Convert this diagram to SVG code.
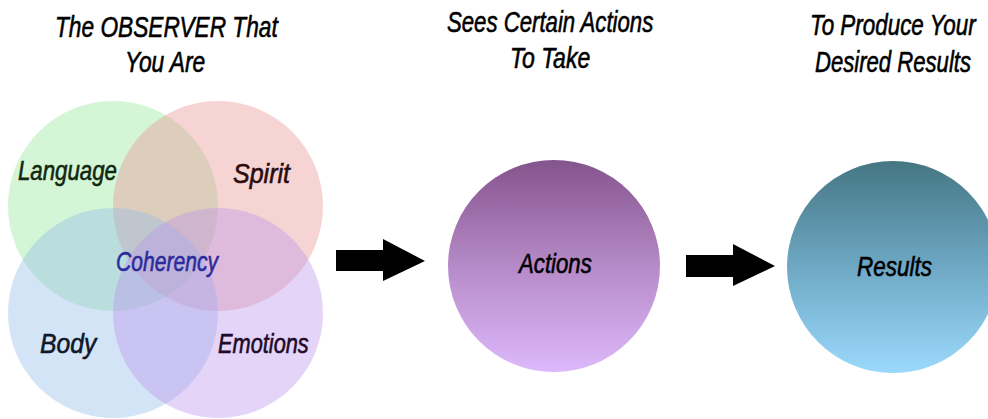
<svg xmlns="http://www.w3.org/2000/svg" width="988" height="419" viewBox="0 0 988 419">
  <style>
    text { font-family: "Liberation Sans Narrow", "Liberation Sans", Arial, sans-serif; font-style: italic; stroke-width: 0.6; }
    .title { font-size: 30px; fill: #000; stroke: #000; }
    .venn-label { font-size: 28px; }
    .node-label { font-size: 28px; fill: #000; stroke: #000; }
    .venn { fill-opacity: 0.4; }
    .arrow { fill: #000; }
  </style>
  <defs>
    <linearGradient id="gradActions" x1="0" y1="0" x2="0" y2="1">
      <stop offset="0" stop-color="#84548c"/>
      <stop offset="0.5" stop-color="#b68ac8"/>
      <stop offset="1" stop-color="#ddb9fb"/>
    </linearGradient>
    <linearGradient id="gradResults" x1="0" y1="0" x2="0" y2="1">
      <stop offset="0" stop-color="#457683"/>
      <stop offset="0.5" stop-color="#6ea8c4"/>
      <stop offset="1" stop-color="#9bd9fc"/>
    </linearGradient>
  </defs>

  <rect width="988" height="419" fill="#fff"/>

  <!-- column headings (condensed italic, squeezed to 75% width) -->
  <g id="headings">
    <text class="title" transform="translate(55,37) scale(0.75,1)" textLength="297" lengthAdjust="spacingAndGlyphs">The OBSERVER That</text>
    <text class="title" transform="translate(125,72) scale(0.75,1)" textLength="107" lengthAdjust="spacingAndGlyphs">You Are</text>
    <text class="title" transform="translate(447,32) scale(0.75,1)" textLength="275" lengthAdjust="spacingAndGlyphs">Sees Certain Actions</text>
    <text class="title" transform="translate(510,68) scale(0.75,1)" textLength="107" lengthAdjust="spacingAndGlyphs">To Take</text>
    <text class="title" transform="translate(810,35) scale(0.75,1)" textLength="221" lengthAdjust="spacingAndGlyphs">To Produce Your</text>
    <text class="title" transform="translate(815,72) scale(0.75,1)" textLength="208" lengthAdjust="spacingAndGlyphs">Desired Results</text>
  </g>

  <!-- observer: four overlapping circles -->
  <g id="observer">
    <g id="language">
      <circle class="venn" cx="113" cy="206" r="105" fill="#94e698"/>
    </g>
    <g id="spirit">
      <circle class="venn" cx="218" cy="206" r="105" fill="#e89393"/>
    </g>
    <g id="body">
      <circle class="venn" cx="113" cy="313" r="105" fill="#93bbeb"/>
    </g>
    <g id="emotions">
      <circle class="venn" cx="218" cy="313" r="105" fill="#bb93eb"/>
    </g>
    <text class="venn-label" transform="translate(18,180) scale(0.75,1)" fill="#10280f" stroke="#10280f" textLength="132" lengthAdjust="spacingAndGlyphs">Language</text>
    <text class="venn-label" transform="translate(233,183) scale(0.75,1)" fill="#2a0c0c" stroke="#2a0c0c" textLength="76" lengthAdjust="spacingAndGlyphs">Spirit</text>
    <text class="venn-label" transform="translate(40,353) scale(0.75,1)" fill="#0f172a" stroke="#0f172a" textLength="75" lengthAdjust="spacingAndGlyphs">Body</text>
    <text class="venn-label" transform="translate(218,353) scale(0.75,1)" fill="#1e0a28" stroke="#1e0a28" textLength="121" lengthAdjust="spacingAndGlyphs">Emotions</text>
    <g id="coherency">
      <text class="venn-label" transform="translate(116,271) scale(0.75,1)" fill="#2b2b9c" stroke="#2b2b9c" textLength="136" lengthAdjust="spacingAndGlyphs">Coherency</text>
    </g>
  </g>

  <!-- actions -->
  <g id="actions">
    <circle cx="554" cy="266" r="106" fill="url(#gradActions)"/>
    <text class="node-label" transform="translate(519,273) scale(0.75,1)" textLength="97" lengthAdjust="spacingAndGlyphs">Actions</text>
  </g>

  <!-- results -->
  <g id="results">
    <circle cx="893" cy="267" r="106" fill="url(#gradResults)"/>
    <text class="node-label" transform="translate(857,276) scale(0.75,1)" textLength="100" lengthAdjust="spacingAndGlyphs">Results</text>
  </g>

  <!-- block arrows between stages -->
  <g id="connectors">
    <polygon class="arrow" points="336,250 383,250 383,239 425,261 383,281 383,271 336,271"/>
    <polygon class="arrow" points="686,255 733,255 733,244 775,266 733,286 733,277 686,277"/>
  </g>
</svg>
